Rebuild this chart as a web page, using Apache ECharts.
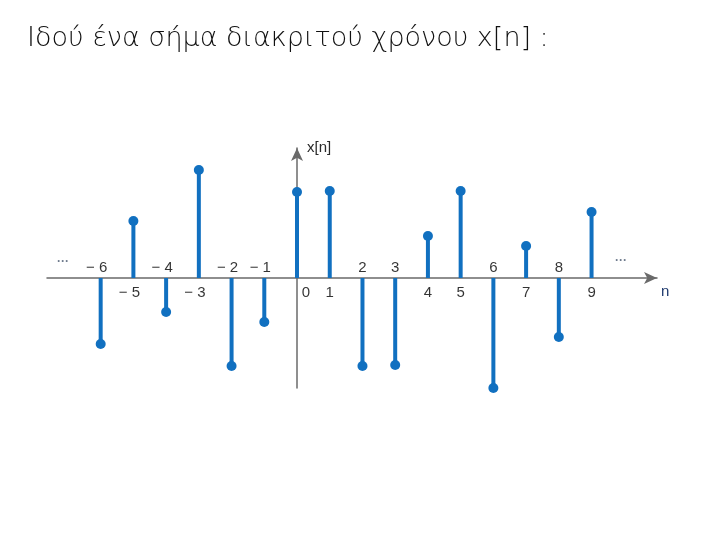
<!DOCTYPE html>
<html>
<head>
<meta charset="utf-8">
<script src="https://cdn.jsdelivr.net/npm/echarts@6/dist/echarts.min.js"></script>
<style>html,body{margin:0;padding:0;background:#fff;}#c{width:720px;height:540px;}</style>
</head>
<body>
<div id="c"></div>
<script>
// Sample indices n and signal values x[n]
const nValues = [-6, -5, -4, -3, -2, -1, 0, 1, 2, 3, 4, 5, 6, 7, 8, 9];
const xValues = [-6.6, 5.7, -3.4, 10.8, -8.8, -4.4, 8.6, 8.7, -8.8, -8.7, 4.2, 8.7, -11, 3.2, -5.9, 6.6];
const tickLabels = ['− 6', '− 5', '− 4', '− 3', '− 2', '− 1', '0', '1', '2', '3', '4', '5', '6', '7', '8', '9'];
const ellipsisPoints = [[-7.15, 1.6], [9.9, 1.7]];
const titleText = 'Ιδού ένα σήμα διακριτού χρόνου x[n] :';

const stemColor = '#1170c0';
const chart = echarts.init(document.getElementById('c'), null, {renderer: 'canvas'});

const labelData = nValues.map((n, i) => ({
  value: [n, 0],
  label: {
    show: true,
    formatter: tickLabels[i],
    position: xValues[i] < 0 ? 'top' : 'bottom',
    distance: xValues[i] < 0 ? 3 : 7,
    offset: n === 0 ? [9, 0] : (n < 0 ? [-4, 0] : [0, 0])
  }
}));

chart.setOption({
  animation: false,
  backgroundColor: '#fff',
  title: {
    text: titleText,
    left: 22, top: 20,
    textStyle: {fontFamily: 'DejaVu Sans', fontSize: 27, fontWeight: 'lighter', color: '#111'}
  },
  grid: {left: 47, right: 63, top: 148, bottom: 152},
  xAxis: {
    type: 'value', min: -7.64, max: 11,
    name: 'n', nameLocation: 'end', nameGap: 4,
    nameTextStyle: {color: '#1f3a6e', fontSize: 15, verticalAlign: 'top', padding: [6, 0, 0, 0], fontFamily: 'Liberation Sans'},
    axisLine: {onZero: true, lineStyle: {color: '#6a6a6a', width: 1.5}, symbol: ['none', 'arrow'], symbolSize: [9, 13]},
    axisTick: {show: false}, axisLabel: {show: false}, splitLine: {show: false}
  },
  yAxis: {
    type: 'value', min: -11, max: 13,
    name: 'x[n]', nameLocation: 'end', nameGap: 0,
    nameTextStyle: {color: '#2a2a2a', fontSize: 15, align: 'left', verticalAlign: 'middle', padding: [0, 0, 0, 10], fontFamily: 'Liberation Sans'},
    axisLine: {onZero: true, lineStyle: {color: '#6a6a6a', width: 1.5}, symbol: ['none', 'arrow'], symbolSize: [9, 13]},
    axisTick: {show: false}, axisLabel: {show: false}, splitLine: {show: false}
  },
  series: [
    {
      type: 'bar', barWidth: 4,
      data: nValues.map((n, i) => [n, xValues[i]]),
      itemStyle: {color: stemColor},
      z: 3
    },
    {
      type: 'scatter', symbol: 'circle', symbolSize: 10,
      data: nValues.map((n, i) => [n, xValues[i]]),
      itemStyle: {color: stemColor, opacity: 1},
      z: 4
    },
    {
      type: 'scatter', symbolSize: 0, silent: true,
      data: labelData,
      label: {color: '#000', fontSize: 15, fontFamily: 'Liberation Sans'},
      z: 5
    },
    {
      type: 'scatter', symbolSize: 0, silent: true,
      data: ellipsisPoints,
      label: {show: true, formatter: '···', position: 'inside', color: '#4a5a70', fontSize: 12, fontWeight: 'bold'},
      z: 5
    }
  ]
});
</script>
</body>
</html>
